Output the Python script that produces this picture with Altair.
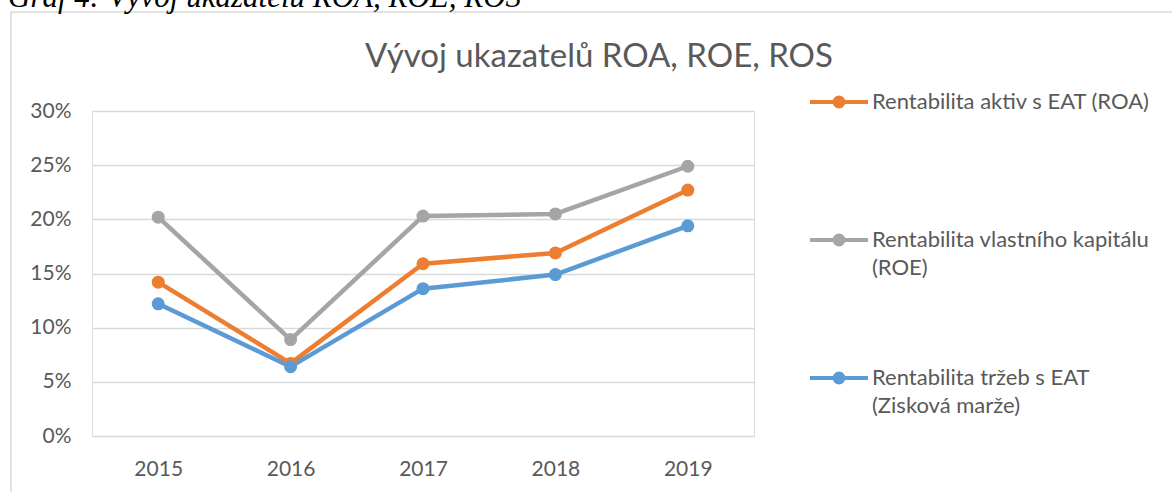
import altair as alt
import pandas as pd

# ---- data ----
years = ["2015", "2016", "2017", "2018", "2019"]
roa = [0.142, 0.067, 0.159, 0.169, 0.227]
roe = [0.202, 0.089, 0.203, 0.205, 0.249]
ros = [0.122, 0.064, 0.136, 0.149, 0.194]
series_keys = ["ROA", "ROE", "ROS"]
legend_lines = [
    ["Rentabilita aktiv s EAT (ROA)", ""],
    ["Rentabilita vlastního kapitálu", "(ROE)"],
    ["Rentabilita tržeb s EAT", "(Zisková marže)"],
]
colors = ["#ED7D31", "#A5A5A5", "#5B9BD5"]
y_ticks = [0.0, 0.05, 0.10, 0.15, 0.20, 0.25, 0.30]
chart_title = "Vývoj ukazatelů ROA, ROE, ROS"
caption = "Graf 4: Vývoj ukazatelů ROA, ROE, ROS"

rows = []
for key, vals in zip(series_keys, [roa, roe, ros]):
    for yr, v in zip(years, vals):
        rows.append({"year": yr, "value": v, "series": key})
df = pd.DataFrame(rows)
one = pd.DataFrame({"title": [chart_title], "caption": [caption]})

# legend label expression built from the label arrays
def js_arr(a):
    return "['" + "','".join(a) + "']"

label_expr = ""
for key, lines in zip(series_keys[:-1], legend_lines[:-1]):
    label_expr += f"datum.label == '{key}' ? {js_arr(lines)} : "
label_expr += js_arr(legend_lines[-1])

TEXT = "#595959"
GRID = "#D9D9D9"
FONT = "Lato"

W, H = 662, 325
PL, PT = 92, 111
PR, PB = 1172 - PL - W, 492 - PT - H

x_enc = alt.X("year:O", sort=years, scale=alt.Scale(type="point", padding=0.5),
              axis=alt.Axis(title=None, labelAngle=0, domain=False, ticks=False,
                            labelPadding=22, labelFontSize=21, labelColor=TEXT,
                            labelFont=FONT, grid=False))
y_enc = alt.Y("value:Q", scale=alt.Scale(domain=[0, 0.30], nice=False),
              axis=alt.Axis(title=None, values=y_ticks, format=".0%", domain=False,
                            ticks=False, labelPadding=21, labelFontSize=21,
                            labelColor=TEXT, labelFont=FONT, grid=True,
                            gridColor=GRID, gridWidth=1.5))

legend_path = ("M-1,0L1,0M-0.155,0A0.155,0.155,0,1,1,0.155,0"
               "A0.155,0.155,0,1,1,-0.155,0Z")
legend = alt.Legend(title=None, orient="none", legendX=716, legendY=-40,
                    symbolType=legend_path, symbolSize=3364, symbolStrokeWidth=4,
                    labelExpr=label_expr, labelFont=FONT, labelFontSize=22,
                    labelColor=TEXT, labelBaseline="middle", labelOffset=2,
                    rowPadding=68, padding=0, labelLimit=400)

stroke_enc = alt.Stroke("series:N", sort=series_keys,
                        scale=alt.Scale(domain=series_keys, range=colors),
                        legend=legend)
fill_enc = alt.Fill("series:N", sort=series_keys,
                    scale=alt.Scale(domain=series_keys, range=colors),
                    legend=legend)

lines = alt.Chart(df).mark_line(strokeWidth=4.5, strokeCap="round",
                                strokeJoin="round").encode(
    x=x_enc, y=y_enc, stroke=stroke_enc)
points = alt.Chart(df).mark_point(filled=True, size=170, opacity=1,
                                  strokeWidth=0).encode(
    x=x_enc, y=y_enc, fill=fill_enc)

border_top = alt.Chart(one).mark_rule(color=GRID, strokeWidth=1.5).encode(
    x=alt.value(-81), x2=alt.value(W + PR + 10), y=alt.value(-99))
border_left = alt.Chart(one).mark_rule(color=GRID, strokeWidth=1.5).encode(
    x=alt.value(-81), y=alt.value(-99), y2=alt.value(H + PB + 10))
cap = alt.Chart(one).mark_text(align="left", baseline="alphabetic",
                               font="Liberation Serif", fontStyle="italic",
                               fontSize=31, color="#000000").encode(
    x=alt.value(-PL + 8), y=alt.value(-PT + 7), text="caption:N")
ttl = alt.Chart(one).mark_text(align="center", baseline="alphabetic",
                               font=FONT, fontSize=33, color=TEXT).encode(
    x=alt.value(599 - PL), y=alt.value(67 - PT), text="title:N")

chart = alt.layer(border_top, border_left, cap, ttl, lines, points).properties(
    width=W, height=H,
    autosize=alt.AutoSizeParams(type="none"),
    padding={"left": PL, "top": PT, "right": PR, "bottom": PB},
).configure_view(stroke=None).configure(
    style={"guide-label": {"lineHeight": 28}}
)

chart.save("out.html", embed_options={"renderer": "svg", "actions": False})
